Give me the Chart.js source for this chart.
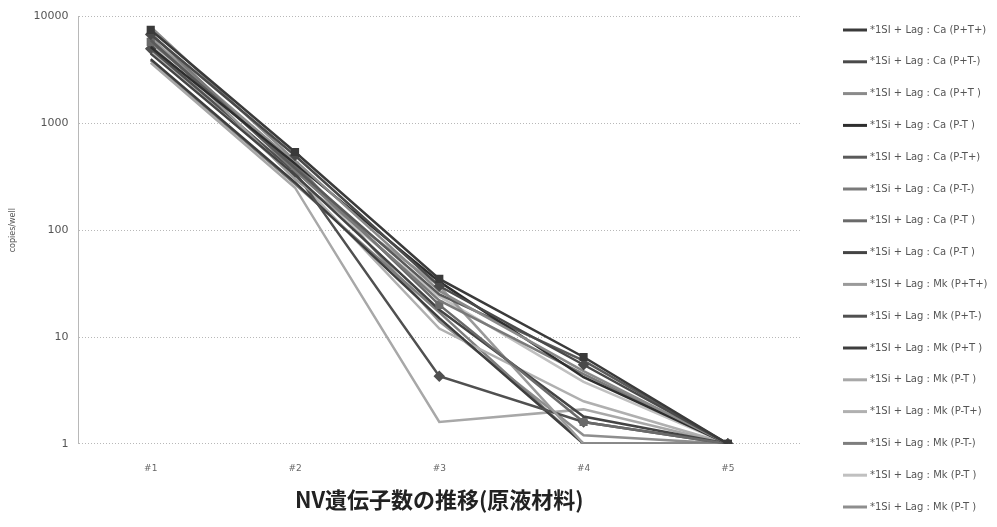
<!DOCTYPE html>
<html>
<head>
<meta charset="utf-8">
<script src="https://cdn.jsdelivr.net/npm/chart.js@4/dist/chart.umd.min.js"></script>
<style>
  html, body { margin:0; padding:0; background:#fff; }
  #wrap { width:997px; height:527px; }
</style>
</head>
<body>
<div id="wrap"><canvas id="nvChart" width="997" height="527"></canvas></div>
<script>
// samples on the x axis
const steps = ["#1", "#2", "#3", "#4", "#5"];

// legend names
const seriesNames = [
    "*1SI + Lag : Ca (P+T+)", "*1Si + Lag : Ca (P+T-)", "*1SI + Lag : Ca (P+T )", "*1Si + Lag : Ca (P-T )",
    "*1SI + Lag : Ca (P-T+)", "*1Si + Lag : Ca (P-T-)", "*1SI + Lag : Ca (P-T )", "*1Si + Lag : Ca (P-T )",
    "*1SI + Lag : Mk (P+T+)", "*1Si + Lag : Mk (P+T-)", "*1SI + Lag : Mk (P+T )", "*1Si + Lag : Mk (P-T )",
    "*1SI + Lag : Mk (P-T+)", "*1Si + Lag : Mk (P-T-)", "*1SI + Lag : Mk (P-T )", "*1Si + Lag : Mk (P-T )"
];

// copies/well per series
const s01 = [7500, 540, 35, 6.5, 1];
const s02 = [6800, 500, 30, 5.5, 1];
const s03 = [8000, 450, 27, 4.8, 1];
const s04 = [5200, 420, 33, 4.2, 1];
const s05 = [6000, 380, 25, 6.0, 1];
const s06 = [7000, 360, 22, 4.5, 1];
const s07 = [5800, 400, 20, 1.6, 1];
const s08 = [4500, 330, 18, 1.8, 1];
const s09 = [6500, 300, 30, 1, 1];
const s10 = [5000, 350, 4.3, 1.6, 1];
const s11 = [4000, 280, 15, 1, 1];
const s12 = [3700, 250, 1.6, 2.1, 1];
const s13 = [4800, 320, 12, 2.5, 1];
const s14 = [3900, 270, 17, 1, 1];
const s15 = [5500, 310, 24, 3.8, 1];
const s16 = [6200, 430, 14, 1.2, 1];
const seriesValues = [s01, s02, s03, s04, s05, s06, s07, s08, s09, s10, s11, s12, s13, s14, s15, s16];

// y tick values shown
const yTicks = [1, 10, 100, 1000, 10000];

const grays = ["#3a3a3a", "#4a4a4a", "#8a8a8a", "#2e2e2e", "#5a5a5a", "#7a7a7a", "#6a6a6a", "#444444",
               "#9a9a9a", "#505050", "#3e3e3e", "#a8a8a8", "#b0b0b0", "#7e7e7e", "#c0c0c0", "#8e8e8e"];
const markers = [true, true, false, false, false, false, true, false, false, true, false, false, false, false, false, false];

const datasets = seriesNames.map((name, i) => ({
    label: name,
    data: seriesValues[i],
    borderColor: grays[i],
    backgroundColor: grays[i],
    borderWidth: 2.5,
    pointRadius: markers[i] ? 4 : 0,
    pointStyle: i % 2 ? "rectRot" : "rect",
    tension: 0
}));

// legend column on the right, one row per dataset
const sideLegend = {
    id: "sideLegend",
    afterDraw(chart) {
        const c = chart.ctx;
        c.save();
        c.font = "10px 'DejaVu Sans'";
        c.textBaseline = "middle";
        chart.data.datasets.forEach((ds, i) => {
            const y = 30 + i * 31.8;
            c.strokeStyle = ds.borderColor;
            c.lineWidth = 3;
            c.beginPath(); c.moveTo(843, y); c.lineTo(867, y); c.stroke();
            c.fillStyle = "#555";
            c.fillText(ds.label, 870, y);
        });
        c.restore();
    }
};

const ctx = document.getElementById("nvChart").getContext("2d");
new Chart(ctx, {
    type: "line",
    data: { labels: steps, datasets: datasets },
    plugins: [sideLegend],
    options: {
        responsive: false,
        animation: false,
        layout: { padding: { left: 4, right: 197, top: 0, bottom: 0 } },
        plugins: {
            legend: { display: false },
            subtitle: {
                display: true,
                position: "top",
                fullSize: false,
                text: "",
                font: { size: 1 },
                padding: { top: 0, bottom: 0 }
            },
            title: {
                display: true,
                position: "bottom",
                fullSize: false,
                text: "NV遺伝子数の推移(原液材料)",
                color: "#222",
                font: { family: "Noto Sans CJK JP", size: 22, weight: "bold" },
                padding: { top: 2, bottom: 14 }
            },
            tooltip: { enabled: false }
        },
        scales: {
            x: {
                offset: true,
                grid: { display: false },
                border: { display: false },
                ticks: { color: "#666", font: { family: "DejaVu Sans", size: 9 }, padding: 11 }
            },
            y: {
                type: "logarithmic",
                min: 1,
                max: 10000,
                afterBuildTicks: axis => { axis.ticks = yTicks.map(v => ({ value: v })); },
                ticks: {
                    color: "#555",
                    font: { family: "DejaVu Sans", size: 11 },
                    padding: 10,
                    callback: v => String(v)
                },
                grid: { color: "#b8b8b8", lineWidth: 1, drawTicks: false },
                border: { display: true, color: "#b8b8b8", dash: [1, 2] },
                title: {
                    display: true,
                    text: "copies/well",
                    color: "#555",
                    font: { family: "DejaVu Sans", size: 8 },
                    padding: { bottom: 6 }
                }
            }
        }
    }
});
</script>
</body>
</html>
